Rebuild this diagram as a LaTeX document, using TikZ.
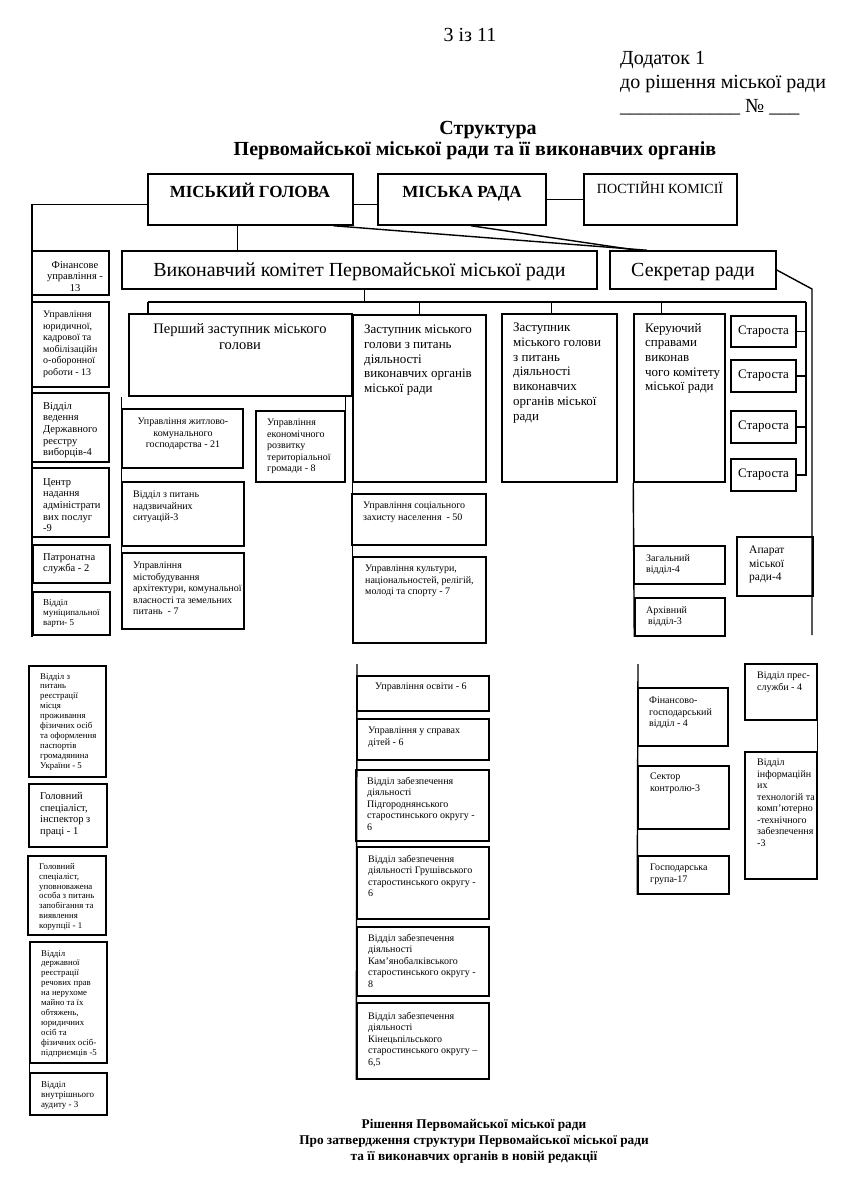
\documentclass[tikz,border=0pt]{standalone}
\usepackage{fontspec}
\setmainfont{Liberation Serif}
\usetikzlibrary{fit}

\newcommand{\fsz}[2]{\fontsize{#1}{#2}\selectfont}

\tikzset{
  unit/.style={draw, line width=1.5pt, inner sep=0pt},
  link/.style={line width=1.4pt},
  lbl/.style={inner sep=0pt, anchor=north west, align=left},
  clbl/.style={inner sep=0pt, anchor=north, align=center},
  sz9/.style={font=\fsz{8.8}{9.9}},
  sz9b/.style={font=\fsz{9}{10.3}},
  sz10/.style={font=\fsz{10}{11.5}},
  sz105/.style={font=\fsz{10.5}{11.7}},
  sz115/.style={font=\fsz{11.5}{13.3}},
  sz13/.style={font=\fsz{13}{14.7}},
  sz145/.style={font=\fsz{14.5}{16.7}},
}

\begin{document}
\begin{tikzpicture}[x=1pt, y=-1pt]
            \fill[white] (0,0) rectangle (848,1200);
            \useasboundingbox (0,0) rectangle (848,1200);

            %% header
            \node[inner sep=0pt, anchor=base, font=\fsz{20}{24}] (page) at (470,41) {3 із 11};
            \node[lbl, font=\fsz{20}{24}] (dodatok) at (620,51) {Додаток 1\\до рішення міської ради\\\_\_\_\_\_\_\_\_\_\_\_\_ № \_\_\_};
            \node[inner sep=0pt, anchor=north, font=\bfseries\fsz{20}{22}] (title1) at (488,121) {Структура};
            \node[inner sep=0pt, anchor=north, font=\bfseries\fsz{20}{22}] (title2) at (475,141) {Первомайської міської ради та її виконавчих органів};

            %% top level
            \node[unit, fit={(148,174) (353,225)}] (gol) {};
            \node[inner sep=0pt, anchor=base, font=\bfseries\fsz{17}{20}] (golt) at (250,197) {МІСЬКИЙ ГОЛОВА};
            \node[unit, fit={(378,174) (546,225)}] (rada) {};
            \node[inner sep=0pt, anchor=base, font=\bfseries\fsz{17}{20}] (radat) at (462,197) {МІСЬКА РАДА};
            \node[unit, fit={(584,174) (737,225)}] (kom) {};
            \node[inner sep=0pt, anchor=base, font=\fsz{14}{16}] (komt) at (660,193) {ПОСТІЙНІ КОМІСІЇ};

            \node[unit, fit={(122,251) (597,289)}] (vk) {};
            \node[inner sep=0pt, font=\fsz{20}{24}] (vkt) at ([yshift=-2pt]vk.center) {Виконавчий комітет Первомайської міської ради};
            \node[unit, fit={(610,251) (776,289)}] (sek) {};
            \node[inner sep=0pt, font=\fsz{20}{24}] (sekt0) at ([yshift=-2pt]sek.center) {Секретар ради};

            %% left column
            \node[unit, fit={(32,251) (109,295)}] (fin) {};
            \node[clbl, sz105] (fint) at (75,261) {Фінансове\\управління -\\13};
            \node[unit, fit={(32,302) (109,387)}] (yur) {};
            \node[lbl, sz10] (yurt) at (43,311) {Управління\\юридичної,\\кадрової та\\мобілізаційн\\о-оборонної\\роботи - 13};
            \node[unit, fit={(32,393) (109,462)}] (vyb) {};
            \node[lbl, sz105] (vybt) at (43,402) {Відділ\\ведення\\Державного\\реєстру\\виборців-4};
            \node[unit, fit={(32,468) (109,537)}] (cnap) {};
            \node[lbl, sz105] (cnapt) at (43,478) {Центр\\надання\\адміністрати\\вих послуг\\-9};
            \node[unit, fit={(33,545) (110,583)}] (patr) {};
            \node[lbl, sz105] (patrt) at (43,553) {Патронатна\\служба - 2};
            \node[unit, fit={(33,592) (110,635)}] (varta) {};
            \node[lbl, sz9b] (vartat) at (43,599) {Відділ\\муніципальної\\варти- 5};

            \node[unit, fit={(29,666) (106,777)}] (reestr) {};
            \node[lbl, sz9] (reestrt) at (40,673) {Відділ з\\питань\\реєстрації\\місця\\проживання\\фізичних осіб\\та оформлення\\паспортів\\громадянина\\України - 5};
            \node[unit, fit={(29,784) (107,847)}] (insp) {};
            \node[lbl, sz105] (inspt) at (40,792) {Головний\\спеціаліст,\\інспектор з\\праці - 1};
            \node[unit, fit={(28,856) (106,935)}] (koru) {};
            \node[lbl, sz9] (korut) at (39,863) {Головний\\спеціаліст,\\уповноважена\\особа з питань\\запобігання та\\виявлення\\корупції - 1};
            \node[unit, fit={(30,942) (107,1063)}] (derzh) {};
            \node[lbl, sz9] (derzht) at (41,950) {Відділ\\державної\\реєстрації\\речових прав\\на нерухоме\\майно та їх\\обтяжень,\\юридичних\\осіб та\\фізичних осіб-\\підприємців -5};
            \node[unit, fit={(30,1073) (107,1115)}] (audyt) {};
            \node[lbl, sz9b] (audytt) at (41,1081) {Відділ\\внутрішнього\\аудиту - 3};

            %% deputies
            \node[unit, fit={(129,314) (352,396)}] (perm) {};
            \node[clbl, sz145] (permt) at (240,323) {Перший заступник міського\\голови};
            \node[unit, fit={(353,315) (486,482)}] (zast1) {};
            \node[lbl, sz13] (zast1t) at (364,325) {Заступник міського\\голови з питань\\діяльності\\виконавчих органів\\міської ради};
            \node[unit, fit={(502,314) (617,482)}] (zast2) {};
            \node[lbl, sz13] (zast2t) at (513,323) {Заступник\\міського голови\\з питань\\діяльності\\виконавчих\\органів міської\\ради};
            \node[unit, fit={(634,314) (725,482)}] (ker) {};
            \node[lbl, sz13] (kert) at (645,323) {Керуючий\\справами\\виконав\\чого комітету\\міської ради};

            \node[unit, fit={(731,316) (796,347)}] (st1) {};
            \node[inner sep=0pt, sz13] (st1t) at (st1.center) {Староста};
            \node[unit, fit={(731,360) (796,392)}] (st2) {};
            \node[inner sep=0pt, sz13] (st2t) at (st2.center) {Староста};
            \node[unit, fit={(731,411) (796,443)}] (st3) {};
            \node[inner sep=0pt, sz13] (st3t) at (st3.center) {Староста};
            \node[unit, fit={(731,459) (796,491)}] (st4) {};
            \node[inner sep=0pt, sz13] (st4t) at (st4.center) {Староста};

            %% first deputy
            \node[unit, fit={(122,409) (243,468)}] (zhkg) {};
            \node[clbl, sz10] (zhkgt) at (183,418) {Управління житлово-\\комунального\\господарства - 21};
            \node[unit, fit={(256,411) (345,482)}] (ekon) {};
            \node[lbl, sz10] (ekont) at (267,419) {Управління\\економічного\\розвитку\\територіальної\\громади - 8};
            \node[unit, fit={(122,482) (244,546)}] (ns) {};
            \node[lbl, sz10] (nst) at (133,491) {Відділ з питань\\надзвичайних\\ситуацій-3};
            \node[unit, fit={(122,553) (244,629)}] (mist) {};
            \node[lbl, sz10] (mistt) at (133,562) {Управління\\містобудування\\архітектури, комунальної\\власності та земельних\\питань~ - 7};

            %% deputy 1
            \node[unit, fit={(352,494) (486,545)}] (soc) {};
            \node[lbl, sz10] (soct) at (363,502) {Управління соціального\\захисту населення~ - 50};
            \node[unit, fit={(353,557) (486,643)}] (kult) {};
            \node[lbl, sz10] (kultt) at (365,565) {Управління культури,\\національностей, релігій,\\молоді та спорту - 7};

            \node[unit, fit={(357,676) (489,711)}] (osv) {};
            \node[lbl, sz10] (osvt) at (375,683) {Управління освіти - 6};
            \node[unit, fit={(357,719) (489,760)}] (dit) {};
            \node[lbl, sz10] (ditt) at (368,727) {Управління у справах\\дітей - 6};
            \node[unit, fit={(356,770) (489,841)}] (pidg) {};
            \node[lbl, sz10] (pidgt) at (367,777) {Відділ забезпечення\\діяльності\\Підгороднянського\\старостинського округу -\\6};
            \node[unit, fit={(357,847) (489,919)}] (grush) {};
            \node[lbl, sz10] (grusht) at (368,855) {Відділ забезпечення\\діяльності Грушівського\\старостинського округу -\\6};
            \node[unit, fit={(357,927) (489,996)}] (kamb) {};
            \node[lbl, sz10] (kambt) at (368,934) {Відділ забезпечення\\діяльності\\Кам’янобалківського\\старостинського округу -\\8};
            \node[unit, fit={(357,1003) (489,1079)}] (kinc) {};
            \node[lbl, sz10] (kinct) at (368,1012) {Відділ забезпечення\\діяльності\\Кінецьпільського\\старостинського округу –\\6,5};

            %% managing
            \node[unit, fit={(634,546) (725,584)}] (zag) {};
            \node[lbl, sz10] (zagt) at (646,554) {Загальний\\відділ-4};
            \node[unit, fit={(635,598) (725,636)}] (arh) {};
            \node[lbl, sz10] (arht) at (646,606) {Архівний\\\hspace*{2pt}відділ-3};
            \node[unit, fit={(737,537) (813,596)}] (apar) {};
            \node[lbl, sz115] (apart) at (749,546) {Апарат\\міської\\ради-4};

            \node[unit, fit={(638,688) (728,746)}] (fing) {};
            \node[lbl, sz10] (fingt) at (649,697) {Фінансово-\\господарський\\відділ - 4};
            \node[unit, fit={(638,766) (729,829)}] (sekt) {};
            \node[lbl, sz10] (sektt) at (650,773) {Сектор\\контролю-3};
            \node[unit, fit={(638,856) (729,894)}] (gosp) {};
            \node[lbl, sz10] (gospt) at (650,864) {Господарська\\група-17};
            \node[unit, fit={(745,664) (817,720)}] (pres) {};
            \node[lbl, sz10] (prest) at (757,672) {Відділ прес-\\служби - 4};
            \node[unit, fit={(745,752) (817,879)}] (info) {};
            \node[lbl, sz10] (infot) at (757,759) {Відділ\\інформаційн\\их\\технологій та\\комп’ютерно\\-технічного\\забезпечення\\-3};

            %% footer
            \node[clbl, font=\bfseries\fsz{13.3}{16}] (foot) at (474,1119) {Рішення Первомайської міської ради\\Про затвердження структури Первомайської міської ради\\та її виконавчих органів в новій редакції};

            %% points
            \coordinate (lbot) at (32,637);
            \coordinate (sekbend) at (812,289);
            \coordinate (sekend) at (812,635);
            \coordinate (busL) at (148,302);
            \coordinate (busR) at (806,302);
            \coordinate (midtop) at (357,664);
            \coordinate (rtop) at (638,664);

            %% links
            \draw[link] ([yshift=-5pt]gol.west) -| (lbot);
            \draw[link] ([yshift=-5pt]gol.east) -- ([yshift=-5pt]rada.west);
            \draw[link] (rada.east) -- (kom.west);
            \draw[link] ([xshift=-13pt]gol.south) -- ([xshift=-13pt]gol.south |- vk.north);
            \draw[link] ([xshift=83pt]gol.south) -- ([xshift=-46pt]sek.north);
            \draw[link] ([xshift=9pt]rada.south) -- ([xshift=-56pt]sek.north);
            \draw[link] (sek.east) -- (sekbend) -- (sekend);

            \draw[link] ([xshift=5pt]vk.south) -- ([xshift=5pt]vk.south |- busL);
            \draw[link] (busL) -- (busR);
            \draw[link] (busL) -- (busL |- perm.north);
            \draw[link] (zast1.north) -- (zast1.north |- busL);
            \draw[link] ([xshift=-8pt]zast2.north) -- ([xshift=-8pt]zast2.north |- busL);
            \draw[link] ([xshift=-18pt]ker.north) -- ([xshift=-18pt]ker.north |- busL);
            \draw[link] (busR) |- (st4.east);
            \draw[link] (st1.east) -- (st1.east -| busR);
            \draw[link] (st2.east) -- (st2.east -| busR);
            \draw[link] (st3.east) -- (st3.east -| busR);

            \draw[link] (zhkg.north west |- perm.south) -- (mist.south west);
            \draw[link] (ekon.north east) -- (ekon.north east |- perm.south);
            \draw[link] ([yshift=5pt]zast1.south west) -- ([yshift=-13pt]kult.west);
            \draw[link] (midtop) -- (kinc.south west);
            \draw[link] (ker.south west) -- (arh.south west);
            \draw[link] (rtop) -- (gosp.south west);
            \draw[link] (pres.south east) -- (info.north east);
            \draw[link] (derzh.south west) -- (audyt.north west);

\end{tikzpicture}
\end{document}
